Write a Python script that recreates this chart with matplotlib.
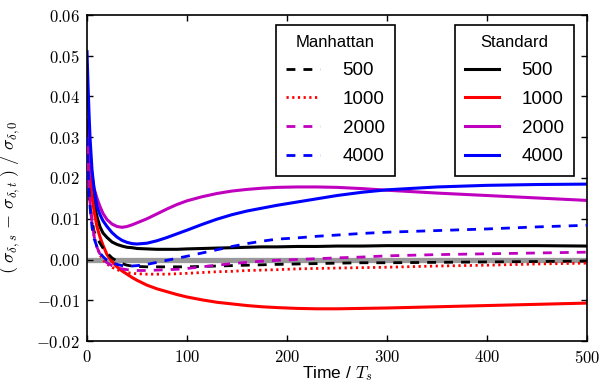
import matplotlib
matplotlib.use("Agg")
import matplotlib.pyplot as plt
from matplotlib.ticker import FuncFormatter, MultipleLocator

plt.rcParams['mathtext.fontset'] = 'cm'
plt.rcParams['font.family'] = ['Liberation Sans', 'DejaVu Sans']
plt.rcParams['lines.scale_dashes'] = False

t = [0, 1, 2, 3, 5, 7, 10, 13, 16, 20, 25, 30, 35, 40, 45, 50, 60, 70, 80, 90, 100,
     115, 130, 145, 160, 175, 190, 210, 230, 250, 275, 300, 350, 400, 450, 500]

std_500 = [0.026, 0.023, 0.021, 0.019, 0.0165, 0.0138, 0.0105, 0.0080, 0.0065, 0.0054, 0.0043, 0.0037,
           0.0033, 0.0030, 0.0029, 0.0027, 0.0026, 0.0025, 0.0025, 0.0025, 0.0026,
           0.0027, 0.0028, 0.0029, 0.0030, 0.0031, 0.0031, 0.0032, 0.0032, 0.0033, 0.0033, 0.0034,
           0.0034, 0.0034, 0.0034, 0.0033]
std_1000 = [0.030, 0.026, 0.023, 0.020, 0.0155, 0.0120, 0.0080, 0.0055, 0.0035, 0.0012, -0.0005, -0.0018,
            -0.0028, -0.0036, -0.0044, -0.0051, -0.0063, -0.0072, -0.0079, -0.0086, -0.0092,
            -0.0099, -0.0105, -0.0109, -0.0113, -0.0116, -0.0118, -0.0120, -0.0121, -0.0121, -0.0120, -0.0119,
            -0.0116, -0.0113, -0.0110, -0.0107]
std_2000 = [0.034, 0.031, 0.028, 0.025, 0.0205, 0.0175, 0.0150, 0.0130, 0.0113, 0.0098, 0.0087, 0.0081,
            0.0079, 0.0081, 0.0085, 0.0090, 0.0100, 0.0112, 0.0124, 0.0135, 0.0144,
            0.0154, 0.0162, 0.0168, 0.0172, 0.0175, 0.0177, 0.0178, 0.0178, 0.0177, 0.0174, 0.0170,
            0.0163, 0.0157, 0.0151, 0.0145]
std_4000 = [0.051, 0.043, 0.036, 0.030, 0.022, 0.0175, 0.0130, 0.0110, 0.0095, 0.0081, 0.0066, 0.0055,
            0.0047, 0.0042, 0.0039, 0.0038, 0.0040, 0.0046, 0.0054, 0.0063, 0.0072,
            0.0086, 0.0099, 0.0110, 0.0119, 0.0126, 0.0133, 0.0141, 0.0149, 0.0157, 0.0165, 0.0171,
            0.0178, 0.0182, 0.0184, 0.0185]

man_500 = [0.025, 0.020, 0.016, 0.013, 0.0095, 0.0070, 0.0052, 0.0040, 0.0028, 0.0016, 0.0004, -0.0004,
           -0.0010, -0.0014, -0.0016, -0.0017, -0.0018, -0.0018, -0.0018, -0.0018, -0.0018,
           -0.0017, -0.0016, -0.0015, -0.0014, -0.0013, -0.0012, -0.0011, -0.0010, -0.0009, -0.0008, -0.0008,
           -0.0007, -0.0006, -0.0005, -0.0004]
man_1000 = [0.030, 0.024, 0.019, 0.015, 0.0095, 0.0060, 0.0030, 0.0011, -0.0001, -0.0011, -0.0019, -0.0025,
            -0.0029, -0.0032, -0.0034, -0.0035, -0.0036, -0.0036, -0.0036, -0.0035, -0.0034,
            -0.0032, -0.0030, -0.0029, -0.0027, -0.0026, -0.0025, -0.0023, -0.0022, -0.0021, -0.0020, -0.0019,
            -0.0016, -0.0014, -0.0011, -0.0009]
man_2000 = [0.028, 0.022, 0.018, 0.014, 0.0090, 0.0058, 0.0030, 0.0013, 0.0001, -0.0008, -0.0015, -0.0020,
            -0.0023, -0.0025, -0.0026, -0.0027, -0.0027, -0.0026, -0.0025, -0.0024, -0.0022,
            -0.0018, -0.0014, -0.0010, -0.0007, -0.0004, -0.0002, 0.0000, 0.0002, 0.0004, 0.0006, 0.0009,
            0.0012, 0.0014, 0.0016, 0.0018]
man_4000 = [0.030, 0.023, 0.017, 0.013, 0.0080, 0.0052, 0.0031, 0.0016, 0.0007, -0.0002, -0.0008, -0.0012,
            -0.0015, -0.0016, -0.0016, -0.0015, -0.0012, -0.0007, -0.0002, 0.0003, 0.0008,
            0.0016, 0.0024, 0.0032, 0.0039, 0.0045, 0.0050, 0.0053, 0.0057, 0.0060, 0.0064, 0.0067,
            0.0071, 0.0075, 0.0080, 0.0084]

labels = ['500', '1000', '2000', '4000']
colors = ['black', 'red', '#bf00bf', 'blue']

fig = plt.figure(figsize=(5.99, 3.87), dpi=100)
ax = fig.add_axes([87/599, 1-341/387, 500/599, 326/387])

ax.axhline(0, color='#999999', lw=3.8, zorder=1)

man = [man_500, man_1000, man_2000, man_4000]
std = [std_500, std_1000, std_2000, std_4000]
man_handles = []
std_handles = []
for i in range(4):
    if i == 1:
        h, = ax.plot(t, man[i], color=colors[i], lw=2, dashes=(1.6, 2.5), dash_capstyle='butt', zorder=3)
    else:
        h, = ax.plot(t, man[i], color=colors[i], lw=2, dashes=(6.4, 5.8), dash_capstyle='butt', zorder=3)
    man_handles.append(h)
for i in range(4):
    h, = ax.plot(t, std[i], color=colors[i], lw=2.2, zorder=2)
    std_handles.append(h)

ax.set_xlim(0, 500)
ax.set_ylim(-0.02, 0.06)
ax.xaxis.set_major_locator(MultipleLocator(100))
ax.yaxis.set_major_locator(MultipleLocator(0.01))

def yfmt(v, pos):
    s = "%.2f" % v
    if s == '-0.00':
        s = '0.00'
    return "$%s$" % s

ax.xaxis.set_major_formatter(FuncFormatter(lambda v, p: "$%d$" % v))
ax.yaxis.set_major_formatter(FuncFormatter(yfmt))
ax.tick_params(direction='in', top=True, right=True, length=4, width=1, labelsize=12)
ax.tick_params(axis='x', pad=6)
ax.tick_params(axis='y', pad=5)
for s in ax.spines.values():
    s.set_linewidth(1.2)

ax.set_xlabel(r"Time / $T_s$", fontsize=12.5)
ax.set_ylabel(r"$(\;\sigma_{\delta,s}\,-\,\sigma_{\delta,t}\;)\ /\ \sigma_{\delta,0}$", fontsize=13)
ax.yaxis.set_label_coords(-0.13, 0.442)
ax.xaxis.set_label_coords(0.5, -0.072)

leg_kw = dict(loc='upper left', fontsize=13.5, title_fontsize=12, fancybox=False,
              handlelength=1.8, handletextpad=1.2, labelspacing=0.62, borderpad=0.55,
              borderaxespad=0, framealpha=1, edgecolor='black')
leg1 = ax.legend(man_handles, labels, title='Manhattan', bbox_to_anchor=(0.378, 0.969), **leg_kw)
leg1.get_frame().set_linewidth(1.2)
ax.add_artist(leg1)
leg2 = ax.legend(std_handles, labels, title='Standard', bbox_to_anchor=(0.736, 0.969), **leg_kw)
leg2.get_frame().set_linewidth(1.2)

fig.savefig('out.png', dpi=100)
